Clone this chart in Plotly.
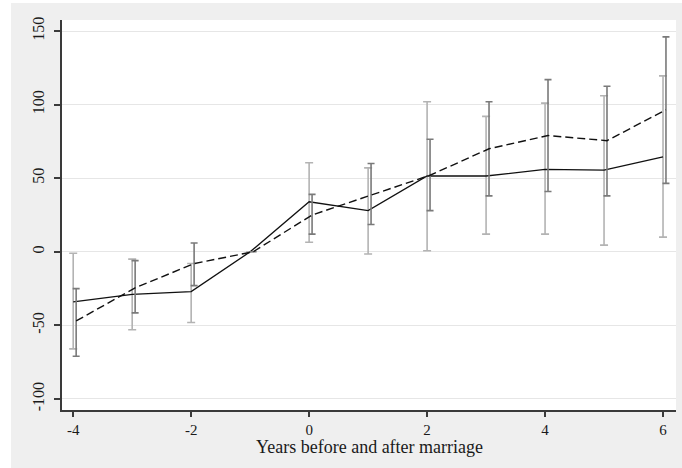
import plotly.graph_objects as go

# ---- data ----
years = [-4, -3, -2, -1, 0, 1, 2, 3, 4, 5, 6]

solid_vals = [-34, -29, -27, 0, 34, 28, 51.5, 51.5, 56, 55.5, 64.5]
solid_hi = [-1, -5, -8, None, 60.5, 57, 102, 92, 101, 106, 119.5]
solid_lo = [-66, -53, -48, None, 6.5, -1.5, 0.7, 12, 12, 4.5, 10]

dashed_vals = [-47, -24.5, -8, 0, 25, 38.5, 52, 70, 79, 75.5, 96.5]
dashed_hi = [-25, -6, 6, None, 39, 60, 76.5, 102, 117, 112.5, 146]
dashed_lo = [-71, -41.5, -23, None, 12, 18.5, 28, 38, 41, 38, 46.5]

y_ticks = [-100, -50, 0, 50, 100, 150]
x_ticks = [-4, -2, 0, 2, 4, 6]
x_title = "Years before and after marriage"

# ---- helpers ----
def up(vals, hi):
    return [None if h is None else h - v for v, h in zip(vals, hi)]

def down(vals, lo):
    return [None if l is None else v - l for v, l in zip(vals, lo)]

offset = 0.05
years_d = [x + offset for x in years]

FONT = "Liberation Serif, Times New Roman, serif"

fig = go.Figure()

fig.add_trace(go.Scatter(
    x=years, y=solid_vals, mode="lines",
    line=dict(color="#111111", width=1.3),
    error_y=dict(type="data", symmetric=False,
                 array=up(solid_vals, solid_hi),
                 arrayminus=down(solid_vals, solid_lo),
                 color="#b3b3b3", thickness=1.6, width=4),
    showlegend=False, hoverinfo="skip",
))

fig.add_trace(go.Scatter(
    x=years_d, y=dashed_vals, mode="lines",
    line=dict(color="#111111", width=1.4, dash="8px,4px"),
    error_y=dict(type="data", symmetric=False,
                 array=up(dashed_vals, dashed_hi),
                 arrayminus=down(dashed_vals, dashed_lo),
                 color="#7a7a7a", thickness=1.6, width=3.5),
    showlegend=False, hoverinfo="skip",
))

fig.update_layout(
    width=682, height=468,
    margin=dict(l=62, r=6, t=20, b=58),
    paper_bgcolor="#efefef",
    plot_bgcolor="#ffffff",
    font=dict(family=FONT, size=16, color="#1a1a1a"),
    shapes=[
        dict(type="rect", xref="paper", yref="paper",
             x0=-0.3, x1=-51 / 614, y0=-0.5, y1=1.5,
             fillcolor="#ffffff", line=dict(width=0), layer="below"),
        dict(type="rect", xref="paper", yref="paper",
             x0=-0.3, x1=1.3, y0=407 / 390, y1=1.5,
             fillcolor="#ffffff", line=dict(width=0), layer="below"),
    ],
    annotations=[
        dict(text=x_title, xref="paper", yref="paper",
             x=0.5, y=-37 / 390, xanchor="center", yanchor="middle",
             showarrow=False,
             font=dict(family=FONT, size=18, color="#1a1a1a")),
    ],
)

fig.update_xaxes(
    range=[-4.19, 6.22],
    tickvals=x_ticks, ticktext=[str(t) for t in x_ticks],
    showgrid=False, zeroline=False,
    showline=True, linecolor="#3a3a3a", linewidth=1.8,
    ticks="outside", ticklen=5, tickwidth=1.5, tickcolor="#3a3a3a",
    tickfont=dict(family=FONT, size=15, color="#1a1a1a"),
    ticklabelstandoff=0,
    automargin=False,
)

fig.update_yaxes(
    range=[-107.5, 157.5],
    tickvals=y_ticks, ticktext=[str(t) for t in y_ticks],
    tickangle=-90,
    showgrid=True, gridcolor="#e6e6e6", gridwidth=1.2,
    zeroline=False,
    showline=True, linecolor="#3a3a3a", linewidth=1.8,
    ticks="outside", ticklen=6, tickwidth=1.5, tickcolor="#3a3a3a",
    tickfont=dict(family=FONT, size=16, color="#1a1a1a"),
    ticklabelstandoff=4,
    automargin=False,
)

fig.write_html("out.html",
               config={"displayModeBar": False},
               post_script="document.body.style.margin='0';document.body.style.padding='0';")
